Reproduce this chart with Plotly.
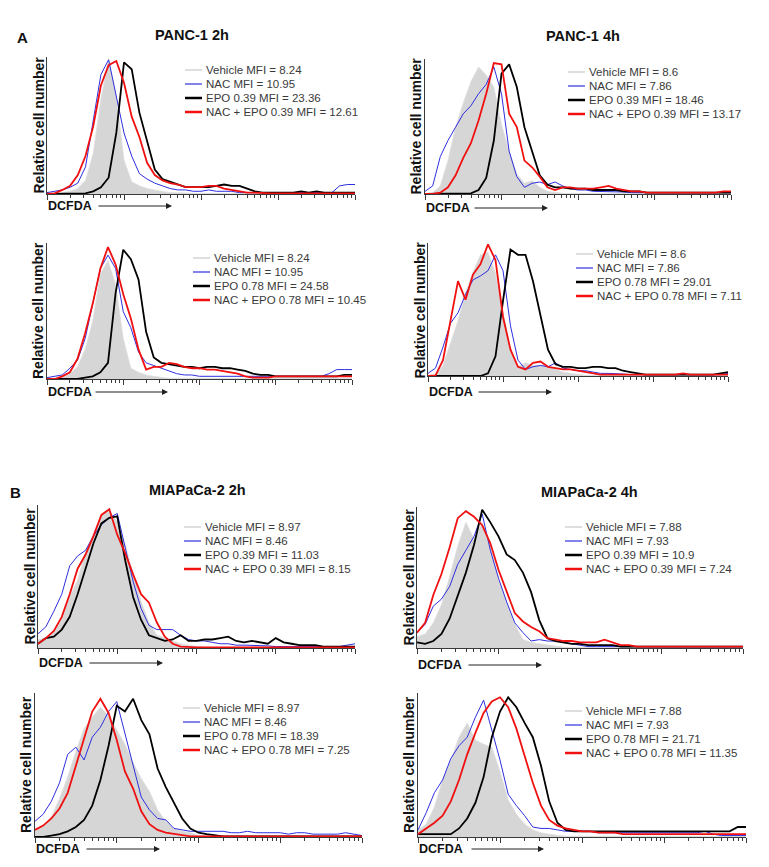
import plotly.graph_objects as go

# ---------------- data ----------------
# DCFDA fluorescence channel grid, in decades (10^0 .. 10^4)
LOG_GRID = [0.0, 0.1, 0.2, 0.3, 0.4, 0.5, 0.6, 0.7, 0.8, 0.9,
            1.0, 1.1, 1.2, 1.3, 1.4, 1.5, 1.6, 1.7, 1.8, 1.9,
            2.0, 2.1, 2.2, 2.3, 2.4, 2.5, 2.6, 2.7, 2.8, 2.9,
            3.0, 3.1, 3.2, 3.3, 3.4, 3.5, 3.6, 3.7, 3.8, 3.9, 4.0]

# PANC-1 2h, EPO 0.39
A1_VEH = [0, 0, 1, 2, 4, 10, 30, 70, 99, 72,
          25, 9, 6, 4, 3, 2, 1, 1, 0.5, 0.5,
          0.5, 0.5, 0.5, 0.5, 0.5, 0.5, 0.5, 0.5, 0.5, 0.5,
          0.5, 0.5, 0.5, 0.5, 0.5, 0.5, 0.5, 0.5, 0.5, 0.5, 0.5]
A1_NAC = [1, 2, 3, 5, 8, 20, 55, 88, 99, 72,
          45, 28, 15, 11, 8, 6, 4, 3, 3, 2,
          2, 3, 2, 2, 2, 1, 1, 1, 1, 1,
          1, 1, 1, 1, 1, 1, 1, 1, 6, 7, 7]
A1_EPO = [0, 0, 0, 0, 0, 0.5, 2, 5, 12, 45,
          97, 92, 60, 38, 18, 11, 9, 7, 5, 5,
          5, 5, 6, 7, 6, 6, 4, 2, 1, 1,
          1, 1, 1, 2, 1, 2, 1, 1, 1, 1, 1]
A1_COMBO = [0, 0.5, 3, 6, 14, 28, 50, 80, 95, 98,
            82, 57, 42, 23, 14, 10, 8, 7, 5, 5,
            5, 6, 6, 4, 3, 2, 1, 1, 0.5, 0.5,
            0.5, 0.5, 0.5, 0.5, 0.5, 0.5, 0.5, 0.5, 0.5, 0.5, 0.5]

# PANC-1 4h, EPO 0.39
A2_VEH = [0, 1, 6, 25, 50, 68, 84, 95, 89, 80,
          52, 32, 15, 8, 10, 5, 2, 1, 0.5, 0.5,
          0.5, 0.5, 0.5, 0.5, 0.5, 0.5, 0.5, 0.5, 0.5, 0.5,
          0.5, 0.5, 0.5, 0.5, 0.5, 0.5, 0.5, 0.5, 0.5, 0.5, 0.5]
A2_NAC = [2, 6, 28, 40, 50, 60, 66, 75, 82, 95,
          75, 32, 13, 5, 8, 9, 7, 9, 6, 4,
          3, 3, 2, 2, 2, 2, 1.5, 1, 1, 1,
          1, 1, 1, 1, 1, 1, 1, 1, 1, 1, 1]
A2_EPO = [0, 0, 0, 0, 0, 0, 0.5, 3, 12, 40,
          90, 97, 80, 50, 32, 14, 7, 5, 5, 4,
          4, 4, 3, 3, 3, 3, 2, 2, 2, 1,
          1, 1, 1, 1, 1, 1, 1, 1, 1, 1, 1]
A2_COMBO = [0, 0, 1, 5, 14, 27, 38, 55, 75, 98,
            97, 60, 50, 25, 20, 13, 5, 3, 5, 5,
            4, 4, 4, 5, 6, 4, 3, 2, 2, 1,
            1, 1, 1, 1, 1, 1, 1, 1, 1, 2, 2]

# PANC-1 2h, EPO 0.78
A3_VEH = [0, 0, 1, 4, 9, 22, 43, 78, 88, 70,
          30, 8, 5, 3, 2, 1, 0.5, 0.5, 0.5, 0.5,
          0.5, 0.5, 0.5, 0.5, 0.5, 0.5, 0.5, 0.5, 0.5, 0.5,
          0.5, 0.5, 0.5, 0.5, 0.5, 0.5, 0.5, 0.5, 0.5, 0.5, 0.5]
A3_NAC = [1, 2, 3, 8, 14, 30, 55, 82, 92, 82,
          50, 38, 20, 12, 10, 8, 6, 4, 3, 3,
          2, 2, 2, 2, 2, 2, 2, 2, 2, 2,
          2, 2, 2, 2, 2, 2, 2, 4, 7, 7, 7]
A3_EPO = [0, 0, 0, 0, 0, 1, 2, 5, 12, 64,
          96, 89, 74, 35, 16, 12, 11, 10, 9, 9,
          8, 9, 9, 8, 8, 7, 6, 4, 3, 3,
          2, 2, 2, 2, 2, 2, 2, 2, 2, 3, 3]
A3_COMBO = [0, 0, 2, 5, 15, 34, 56, 82, 98, 85,
            63, 45, 22, 7, 9, 9, 12, 11, 9, 8,
            8, 7, 7, 6, 5, 4, 2, 1, 1, 1,
            2, 2, 2, 2, 2, 2, 2, 2, 2, 2, 2]

# PANC-1 4h, EPO 0.78
A4_VEH = [0, 0.5, 8, 25, 42, 63, 79, 92, 94, 78,
          47, 19, 7, 10, 8, 8, 7, 5, 3, 2,
          1, 0.5, 0.5, 0.5, 0.5, 0.5, 0.5, 0.5, 0.5, 0.5,
          0.5, 0.5, 0.5, 0.5, 0.5, 0.5, 0.5, 0.5, 0.5, 0.5, 0.5]
A4_NAC = [2, 6, 22, 40, 48, 62, 73, 76, 80, 92,
          80, 38, 12, 5, 7, 8, 7, 10, 6, 5,
          4, 4, 3, 2, 2, 2, 1.5, 1, 1, 1,
          1, 1, 1, 1, 1, 1, 1, 1, 1, 1, 2]
A4_EPO = [0, 0, 0, 0, 0, 0, 0, 0, 2, 15,
          57, 96, 92, 92, 72, 45, 20, 9, 7, 7,
          6, 6, 7, 7, 6, 6, 4, 3, 2, 1,
          1, 1, 1, 1, 1, 1, 1, 1, 1, 2, 3]
A4_COMBO = [0, 0.5, 12, 42, 72, 58, 77, 85, 100, 88,
            45, 20, 7, 5, 10, 11, 7, 6, 5, 5,
            4, 3, 2, 1, 1, 1, 1, 1, 1, 1,
            1, 1, 1, 1, 2, 1, 1, 1, 1, 1, 1]

# MIAPaCa-2 2h, EPO 0.39
B1_VEH = [6, 7, 11, 20, 36, 48, 68, 81, 94, 97,
          89, 73, 52, 33, 18, 9, 7, 5, 3, 2,
          1, 0.5, 0.5, 0.5, 0.5, 0.5, 0.5, 0.5, 0.5, 0.5,
          0.5, 0.5, 0.5, 0.5, 0.5, 0.5, 0.5, 0.5, 0.5, 0.5, 0.5]
B1_NAC = [10, 15, 26, 38, 58, 65, 69, 79, 87, 92,
          95, 70, 47, 28, 16, 13, 13, 13, 9, 6,
          5, 5, 4, 3, 3, 2, 2, 2, 2, 1.5,
          1, 1, 1, 1, 1, 1, 1, 1, 1, 2, 3]
B1_EPO = [3, 7, 8, 13, 22, 38, 56, 74, 88, 92,
          93, 62, 36, 20, 9, 7, 5, 6, 9, 5,
          5, 6, 6, 7, 8, 5, 4, 5, 4, 3,
          7, 4, 3, 2, 2, 2, 1, 1, 1, 1, 1]
B1_COMBO = [3, 7, 12, 22, 38, 56, 66, 79, 94, 98,
            80, 67, 52, 38, 32, 18, 8, 3, 1, 0.5,
            0.5, 0.5, 0.5, 0.5, 0.5, 0.5, 0.5, 0.5, 0.5, 0.5,
            0.5, 0.5, 0.5, 0.5, 0.5, 0.5, 0.5, 0.5, 0.5, 0.5, 0.5]

# MIAPaCa-2 4h, EPO 0.39
B2_VEH = [8, 10, 18, 31, 51, 73, 90, 78, 90, 73,
          49, 32, 17, 6, 4, 3, 2, 1, 0.5, 0.5,
          0.5, 0.5, 0.5, 0.5, 0.5, 0.5, 0.5, 0.5, 0.5, 0.5,
          0.5, 0.5, 0.5, 0.5, 0.5, 0.5, 0.5, 0.5, 0.5, 0.5, 0.5]
B2_NAC = [11, 17, 30, 35, 44, 60, 70, 80, 96, 70,
          50, 33, 18, 11, 5, 6, 5, 5, 4, 3,
          2, 1, 1, 1, 1, 1, 1, 1, 1, 1,
          1, 1, 1, 1, 1, 1, 1, 1, 1, 1, 1]
B2_EPO = [4, 3, 5, 10, 21, 38, 54, 74, 99, 90,
          80, 67, 63, 54, 40, 20, 7, 5, 4, 3,
          3, 2, 2, 2, 2, 1, 1, 1, 1, 1,
          1, 1, 1, 1, 1, 1, 1, 1, 1, 1, 1]
B2_COMBO = [11, 18, 38, 53, 72, 93, 98, 94, 88, 75,
            56, 40, 25, 19, 15, 12, 7, 6, 5, 5,
            4, 4, 4, 6, 4, 2, 2, 1, 1, 1,
            1, 1, 1, 1, 1, 1, 1, 1, 1, 1, 1]

# MIAPaCa-2 2h, EPO 0.78
B3_VEH = [5, 8, 14, 27, 42, 60, 76, 84, 91, 85,
          75, 65, 52, 41, 32, 19, 11, 6, 4, 3,
          1, 0.5, 0.5, 0.5, 0.5, 0.5, 0.5, 0.5, 0.5, 0.5,
          0.5, 0.5, 0.5, 0.5, 0.5, 0.5, 0.5, 0.5, 0.5, 0.5, 0.5]
B3_NAC = [11, 16, 25, 38, 58, 63, 54, 70, 77, 88,
          95, 73, 50, 28, 19, 13, 12, 6, 5, 4,
          4, 4, 4, 4, 3, 3, 4, 3, 3, 3,
          3, 2, 3, 3, 2, 2, 2, 2, 3, 2, 1]
B3_EPO = [0, 0, 1, 2, 4, 7, 12, 22, 40, 64,
          92, 88, 97, 82, 72, 48, 35, 24, 13, 6,
          3, 2, 1, 0.5, 0.5, 0.5, 0.5, 0.5, 0.5, 0.5,
          0.5, 0.5, 0.5, 0.5, 0.5, 0.5, 0.5, 0.5, 0.5, 0.5, 0.5]
B3_COMBO = [5, 8, 13, 20, 31, 50, 70, 88, 97, 87,
            68, 46, 34, 18, 9, 5, 3, 2, 1, 0.5,
            0.5, 0.5, 0.5, 0.5, 0.5, 0.5, 0.5, 0.5, 0.5, 0.5,
            0.5, 0.5, 0.5, 0.5, 0.5, 0.5, 0.5, 0.5, 0.5, 0.5, 0.5]

# MIAPaCa-2 4h, EPO 0.78
B4_VEH = [5, 9, 21, 40, 54, 70, 80, 68, 65, 63,
          46, 26, 16, 9, 5, 3, 2, 1, 0.5, 0.5,
          0.5, 0.5, 0.5, 0.5, 0.5, 0.5, 0.5, 0.5, 0.5, 0.5,
          0.5, 0.5, 0.5, 0.5, 0.5, 0.5, 0.5, 0.5, 0.5, 0.5, 0.5]
B4_NAC = [5, 17, 31, 40, 55, 64, 70, 84, 96, 75,
          54, 30, 22, 15, 7, 6, 6, 5, 4, 4,
          4, 4, 3, 3, 3, 3, 3, 3, 3, 3,
          3, 3, 3, 3, 3, 4, 2, 1, 1, 1, 1]
B4_EPO = [2, 2, 2, 2, 2, 6, 13, 24, 42, 70,
          88, 98, 91, 80, 70, 50, 25, 10, 5, 4,
          4, 4, 4, 4, 4, 4, 4, 4, 4, 4,
          4, 4, 4, 4, 4, 4, 4, 4, 4, 7, 7]
B4_COMBO = [2, 6, 10, 15, 25, 40, 58, 73, 87, 95,
            98, 91, 76, 57, 38, 22, 12, 8, 6, 5,
            4, 4, 3, 3, 3, 2, 2, 2, 2, 2,
            2, 2, 2, 2, 2, 2, 2, 2, 2, 2, 2]

LEG_A1 = ["Vehicle MFI = 8.24", "NAC MFI = 10.95", "EPO 0.39 MFI = 23.36", "NAC + EPO 0.39 MFI = 12.61"]
LEG_A2 = ["Vehicle MFI = 8.6", "NAC MFI = 7.86", "EPO 0.39 MFI = 18.46", "NAC + EPO 0.39 MFI = 13.17"]
LEG_A3 = ["Vehicle MFI = 8.24", "NAC MFI = 10.95", "EPO 0.78 MFI = 24.58", "NAC + EPO 0.78 MFI = 10.45"]
LEG_A4 = ["Vehicle MFI = 8.6", "NAC MFI = 7.86", "EPO 0.78 MFI = 29.01", "NAC + EPO 0.78 MFI = 7.11"]
LEG_B1 = ["Vehicle MFI = 8.97", "NAC MFI = 8.46", "EPO 0.39 MFI = 11.03", "NAC + EPO 0.39 MFI = 8.15"]
LEG_B2 = ["Vehicle MFI = 7.88", "NAC MFI = 7.93", "EPO 0.39 MFI = 10.9", "NAC + EPO 0.39 MFI = 7.24"]
LEG_B3 = ["Vehicle MFI = 8.97", "NAC MFI = 8.46", "EPO 0.78 MFI = 18.39", "NAC + EPO 0.78 MFI = 7.25"]
LEG_B4 = ["Vehicle MFI = 7.88", "NAC MFI = 7.93", "EPO 0.78 MFI = 21.71", "NAC + EPO 0.78 MFI = 11.35"]

PANEL_TITLES = ["PANC-1 2h", "PANC-1 4h", "MIAPaCa-2 2h", "MIAPaCa-2 4h"]
SECTION_LABELS = ["A", "B"]
Y_TITLE = "Relative cell number"
X_TITLE = "DCFDA"

PANEL_DATA = [
    (A1_VEH, A1_NAC, A1_EPO, A1_COMBO, LEG_A1),
    (A2_VEH, A2_NAC, A2_EPO, A2_COMBO, LEG_A2),
    (A3_VEH, A3_NAC, A3_EPO, A3_COMBO, LEG_A3),
    (A4_VEH, A4_NAC, A4_EPO, A4_COMBO, LEG_A4),
    (B1_VEH, B1_NAC, B1_EPO, B1_COMBO, LEG_B1),
    (B2_VEH, B2_NAC, B2_EPO, B2_COMBO, LEG_B2),
    (B3_VEH, B3_NAC, B3_EPO, B3_COMBO, LEG_B3),
    (B4_VEH, B4_NAC, B4_EPO, B4_COMBO, LEG_B4),
]

# ---------------- layout (page pixels) ----------------
PAGE_W, PAGE_H = 769, 867
BODY_MARGIN = 8                      # default browser body margin
W, H = PAGE_W - 2 * BODY_MARGIN, PAGE_H - 2 * BODY_MARGIN

PANEL_BOX = [
    dict(x0=47, x1=355, yt=57, yb=194, lx=204, ly=70, ytx=38, dy=206, ax0=97, ax1=172),
    dict(x0=425, x1=731, yt=59, yb=194, lx=587, ly=72, ytx=416, dy=208, ax0=473, ax1=548),
    dict(x0=47, x1=352, yt=243, yb=379, lx=212, ly=258, ytx=38, dy=392, ax0=94, ax1=168),
    dict(x0=428, x1=728, yt=243, yb=376, lx=595, ly=254, ytx=419, dy=392, ax0=477, ax1=552),
    dict(x0=38, x1=355, yt=505, yb=648, lx=203, ly=527, ytx=29, dy=663, ax0=88, ax1=163),
    dict(x0=417, x1=743, yt=507, yb=648, lx=584, ly=527, ytx=408, dy=665, ax0=467, ax1=542),
    dict(x0=35, x1=362, yt=693, yb=837, lx=202, ly=708, ytx=26, dy=849, ax0=85, ax1=160),
    dict(x0=418, x1=746, yt=693, yb=837, lx=584, ly=711, ytx=409, dy=849, ax0=470, ax1=544),
]
TITLE_POS = [(192, 35), (583, 36), (197, 490), (589, 492)]
SECTION_POS = [(22, 37), (15, 492)]

VEH_FILL = "#d6d6d6"
VEH_LINE = "#dedede"
NAC_COLOR = "#2f2fe0"
EPO_COLOR = "#000000"
COMBO_COLOR = "#f01010"
AXIS_COLOR = "#3a3a3a"
FONT = "Liberation Sans"


def px(x):
    return (x - BODY_MARGIN) / W


def py(y):
    return 1 - (y - BODY_MARGIN) / H


xs = [10 ** g for g in LOG_GRID]

fig = go.Figure()
layout = dict(
    width=W, height=H, margin=dict(l=0, r=0, t=0, b=0),
    paper_bgcolor="white", plot_bgcolor="white", showlegend=False,
    font=dict(family=FONT, color="#333333"),
)
annotations = []
shapes = []

for i, (veh, nac, epo, combo, leg) in enumerate(PANEL_DATA):
    b = PANEL_BOX[i]
    sfx = "" if i == 0 else str(i + 1)
    xref, yref = "x" + sfx, "y" + sfx
    fig.add_trace(go.Scatter(x=xs, y=veh, mode="lines", fill="tozeroy",
                             fillcolor=VEH_FILL, line=dict(color=VEH_LINE, width=0.8),
                             xaxis=xref, yaxis=yref, name=leg[0]))
    fig.add_trace(go.Scatter(x=xs, y=nac, mode="lines",
                             line=dict(color=NAC_COLOR, width=1),
                             xaxis=xref, yaxis=yref, name=leg[1]))
    fig.add_trace(go.Scatter(x=xs, y=epo, mode="lines",
                             line=dict(color=EPO_COLOR, width=1.8),
                             xaxis=xref, yaxis=yref, name=leg[2]))
    fig.add_trace(go.Scatter(x=xs, y=combo, mode="lines",
                             line=dict(color=COMBO_COLOR, width=1.8),
                             xaxis=xref, yaxis=yref, name=leg[3]))

    layout["xaxis" + sfx] = dict(
        domain=[px(b["x0"]), px(b["x1"])], anchor=yref, type="log", range=[0, 4],
        showline=True, linecolor=AXIS_COLOR, linewidth=1.3, mirror=False,
        ticks="outside", ticklen=5, tickwidth=1, tickcolor=AXIS_COLOR, dtick=1,
        showticklabels=False, showgrid=False, zeroline=False,
        minor=dict(ticks="outside", ticklen=3, tickwidth=1, tickcolor=AXIS_COLOR,
                   dtick="D1", showgrid=False),
    )
    layout["yaxis" + sfx] = dict(
        domain=[py(b["yb"]), py(b["yt"])], anchor=xref, range=[0, 101],
        showline=True, linecolor=AXIS_COLOR, linewidth=1.3,
        ticks="", showticklabels=False, showgrid=False, zeroline=False,
    )

    annotations.append(dict(
        x=px(b["ytx"]), y=py((b["yt"] + b["yb"]) / 2), xref="paper", yref="paper",
        text="<b>" + Y_TITLE + "</b>", textangle=-90, showarrow=False,
        xanchor="center", yanchor="middle",
        font=dict(family=FONT, size=14, color="#111111")))
    annotations.append(dict(
        x=px(b["x0"] - 1), y=py(b["dy"]), xref="paper", yref="paper",
        text="<b>" + X_TITLE + "</b>", showarrow=False,
        xanchor="left", yanchor="middle",
        font=dict(family=FONT, size=12.5, color="#111111")))
    annotations.append(dict(
        x=px(b["ax1"]), y=py(b["dy"]), xref="paper", yref="paper",
        ax=-(b["ax1"] - b["ax0"]), ay=0,
        text="", showarrow=True, arrowhead=2, arrowsize=1, arrowwidth=1.2,
        arrowcolor="#222222"))

    colors = [VEH_LINE, NAC_COLOR, EPO_COLOR, COMBO_COLOR]
    widths = [2, 1.2, 2.5, 2.5]
    for k in range(4):
        yy = b["ly"] + k * 14
        shapes.append(dict(type="line", xref="paper", yref="paper",
                           x0=px(b["lx"] - 19), x1=px(b["lx"] - 2), y0=py(yy), y1=py(yy),
                           line=dict(color=colors[k], width=widths[k])))
        annotations.append(dict(
            x=px(b["lx"]), y=py(yy), xref="paper", yref="paper",
            text=leg[k], showarrow=False, xanchor="left", yanchor="middle",
            font=dict(family=FONT, size=11.5, color="#3a3a3a")))

for t, (tx, ty) in zip(PANEL_TITLES, TITLE_POS):
    annotations.append(dict(x=px(tx), y=py(ty), xref="paper", yref="paper",
                            text="<b>" + t + "</b>", showarrow=False,
                            xanchor="center", yanchor="middle",
                            font=dict(family=FONT, size=14.5, color="#111111")))
for t, (tx, ty) in zip(SECTION_LABELS, SECTION_POS):
    annotations.append(dict(x=px(tx), y=py(ty), xref="paper", yref="paper",
                            text="<b>" + t + "</b>", showarrow=False,
                            xanchor="center", yanchor="middle",
                            font=dict(family=FONT, size=15, color="#111111")))

layout["annotations"] = annotations
layout["shapes"] = shapes
fig.update_layout(**layout)
fig.write_html("out.html")
